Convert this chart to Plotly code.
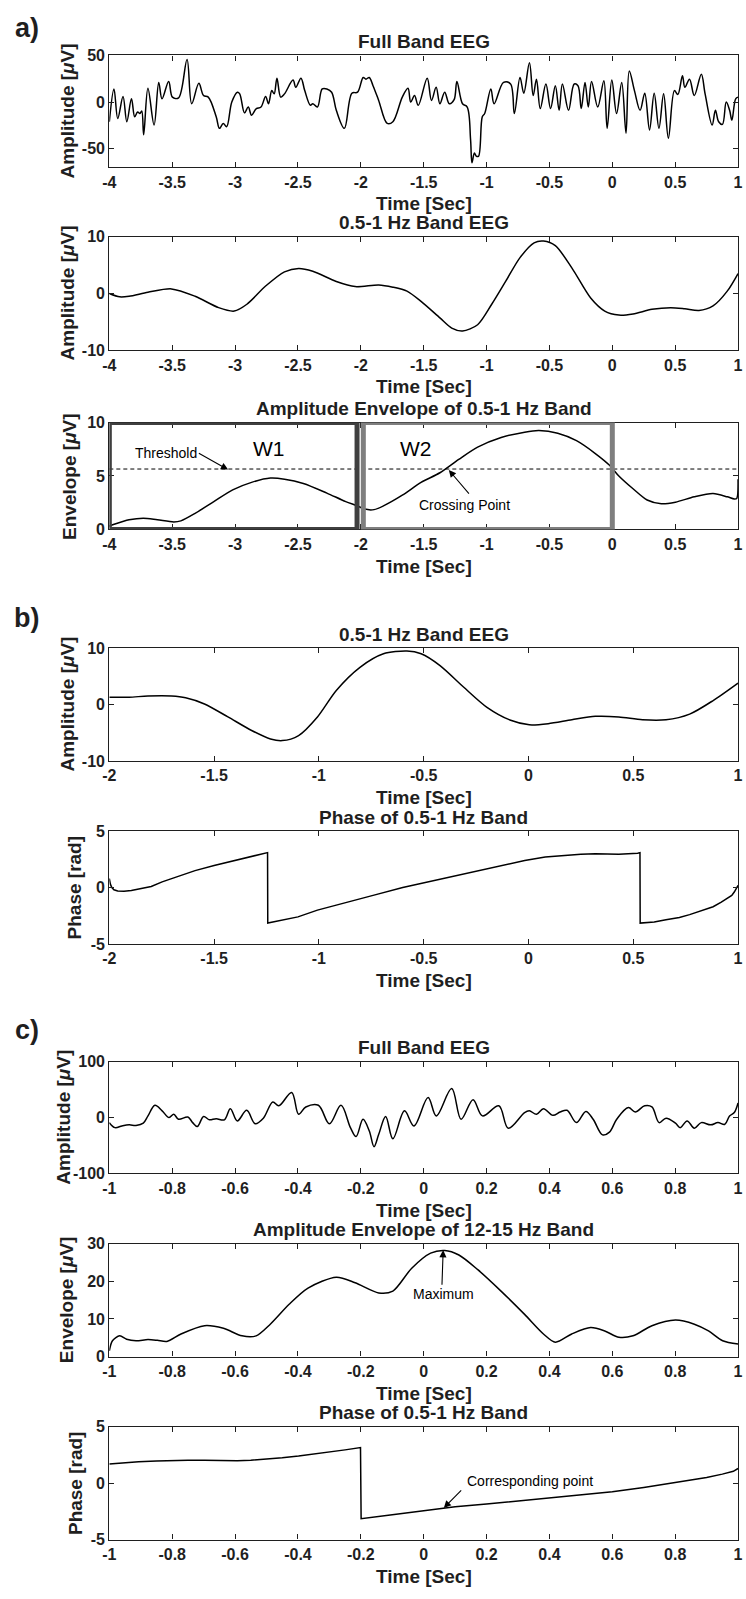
import plotly.graph_objects as go

# ---------------- data ----------------
a_full_t = [-4.000,-3.963,-3.933,-3.891,-3.861,-3.824,-3.798,-3.775,-3.757,-3.742,
            -3.727,-3.693,-3.644,-3.607,-3.581,-3.528,-3.498,-3.449,-3.382,-3.345,
            -3.288,-3.251,-3.213,-3.150,-3.124,-3.094,-3.067,-3.026,-2.981,-2.963,
            -2.925,-2.895,-2.869,-2.831,-2.794,-2.757,-2.734,-2.708,-2.689,-2.667,
            -2.637,-2.607,-2.539,-2.517,-2.476,-2.446,-2.401,-2.382,-2.345,-2.307,
            -2.270,-2.232,-2.195,-2.131,-2.071,-2.026,-1.981,-1.959,-1.933,-1.903,
            -1.858,-1.790,-1.745,-1.670,-1.625,-1.603,-1.573,-1.543,-1.472,-1.438,
            -1.401,-1.371,-1.333,-1.296,-1.258,-1.236,-1.191,-1.154,-1.127,-1.116,
            -1.097,-1.082,-1.064,-1.034,-1.015,-0.966,-0.940,-0.865,-0.809,-0.779,
            -0.734,-0.704,-0.659,-0.629,-0.603,-0.573,-0.528,-0.491,-0.453,-0.423,
            -0.397,-0.348,-0.303,-0.273,-0.247,-0.217,-0.191,-0.165,-0.116,-0.067,
            -0.041,-0.004,0.034,0.075,0.109,0.135,0.176,0.221,0.258,0.296,
            0.333,0.371,0.408,0.446,0.494,0.521,0.558,0.577,0.614,0.652,
            0.708,0.738,0.794,0.820,0.846,0.876,0.906,0.933,0.951,0.981,
            1.000]
a_full_v = [-21.1,14.1,-17.6,6.0,-21.1,3.5,-15.8,-10.6,-12.3,-9.5,
            -35.2,14.8,-24.6,21.1,3.5,22.2,5.3,4.6,45.8,-1.8,
            20.1,7.0,5.3,-15.8,-28.2,-22.9,-26.4,0.0,10.6,8.8,
            -11.6,-5.3,-14.1,-7.0,-5.3,6.0,-1.8,12.3,8.8,25.7,
            5.3,8.8,23.6,15.8,25.7,12.3,-3.5,-1.8,-5.3,14.1,
            14.1,10.6,-8.8,-28.2,9.5,10.6,26.4,24.6,26.4,17.6,
            1.8,-22.9,-21.1,5.3,14.8,0.0,7.0,-3.5,25.7,1.8,
            15.8,-1.8,10.6,-1.8,2.5,22.2,-1.8,-5.3,-40.5,-65.1,
            -54.6,-58.1,-58.1,-15.8,-12.3,14.1,-1.8,21.1,19.4,-12.3,
            26.4,9.5,42.3,7.0,24.6,-7.0,19.4,-7.0,17.6,-8.8,
            19.4,-8.8,19.4,17.6,-7.0,21.1,-5.3,22.2,-5.3,22.9,
            -28.2,23.6,-12.3,21.1,-33.4,33.4,12.3,-8.8,9.5,-29.9,
            9.5,-28.2,8.8,-38.7,12.3,8.1,28.2,15.8,24.6,7.0,
            29.9,8.8,-24.6,-8.8,-21.1,-23.9,0.0,-8.8,-19.4,3.5,
            5.3]

a_delta_t = [-4.0,-3.918,-3.843,-3.693,-3.506,-3.318,-3.131,-3.007,-2.906,-2.757,
             -2.607,-2.494,-2.382,-2.195,-2.045,-1.858,-1.745,-1.633,-1.521,-1.371,
             -1.277,-1.191,-1.071,-0.959,-0.846,-0.734,-0.622,-0.547,-0.453,-0.322,
             -0.172,-0.060,0.052,0.165,0.315,0.464,0.577,0.689,0.801,0.914,1.0]
a_delta_v = [0.0,-0.6,-0.5,0.2,0.8,-0.5,-2.5,-3.1,-1.9,1.3,
             3.8,4.4,3.9,2.1,1.2,1.5,1.1,0.4,-1.4,-4.3,
             -6.1,-6.6,-5.5,-1.9,2.2,6.3,8.9,9.2,8.4,4.5,
             -0.8,-3.1,-3.8,-3.6,-2.8,-2.5,-2.7,-3.0,-2.2,0.4,3.5]

a_env_t = [-4.000,-3.955,-3.843,-3.730,-3.618,-3.487,-3.431,-3.318,-3.169,-3.019,
           -2.869,-2.719,-2.607,-2.457,-2.270,-2.120,-2.026,-1.970,-1.895,-1.820,
           -1.670,-1.521,-1.371,-1.221,-1.071,-0.884,-0.697,-0.584,-0.434,-0.285,
           -0.135,-0.022,0.052,0.165,0.277,0.390,0.502,0.652,0.801,0.914,
           0.970,0.990,1.000]
a_env_v = [0.3,0.5,0.9,1.05,0.9,0.7,0.8,1.5,2.6,3.7,
           4.4,4.8,4.7,4.3,3.4,2.6,2.2,1.9,1.85,2.2,
           3.2,4.4,5.3,6.55,7.7,8.6,9.1,9.25,9.0,8.3,
           7.1,6.0,5.0,3.8,2.75,2.4,2.55,3.05,3.35,3.05,
           2.85,2.9,4.7]
threshold = 5.65
w1_window = [-4.0, -2.03]
w2_window = [-1.98, 0.0]

b_delta_t = [-2.000,-1.906,-1.816,-1.703,-1.636,-1.546,-1.434,-1.321,-1.231,-1.175,
             -1.097,-1.007,-0.917,-0.804,-0.692,-0.580,-0.512,-0.422,-0.310,-0.198,
             -0.085,0.004,0.094,0.207,0.319,0.431,0.544,0.656,0.769,0.881,1.000]
b_delta_v = [1.3,1.3,1.5,1.5,1.2,0.1,-2.2,-4.6,-6.1,-6.4,
             -5.5,-2.2,2.5,6.6,9.0,9.5,9.0,6.9,3.1,-0.5,
             -2.8,-3.6,-3.4,-2.7,-2.1,-2.2,-2.7,-2.7,-1.7,0.7,3.8]

b_phase_t = [-2.000,-1.995,-1.988,-1.978,-1.960,-1.930,-1.895,-1.861,-1.80,-1.748,
             -1.67,-1.591,-1.50,-1.434,-1.321,-1.245,-1.244,-1.10,-1.007,-0.87,
             -0.737,-0.60,-0.467,-0.35,-0.243,-0.13,-0.018,0.08,0.162,0.250,
             0.319,0.431,0.521,0.532,0.533,0.60,0.656,0.72,0.769,0.83,
             0.881,0.92,0.948,0.97,0.982,1.000]
b_phase_v = [0.8,0.3,0.0,-0.2,-0.3,-0.32,-0.27,-0.15,0.1,0.5,
             1.0,1.5,1.95,2.25,2.75,3.1,-3.15,-2.6,-2.0,-1.35,
             -0.67,0.0,0.55,1.05,1.5,1.97,2.4,2.7,2.85,2.95,
             3.0,2.95,3.05,3.1,-3.15,-3.05,-2.85,-2.65,-2.4,-2.05,
             -1.7,-1.3,-1.0,-0.7,-0.4,0.2]

c_full_t = [-1.000,-0.982,-0.960,-0.937,-0.915,-0.892,-0.877,-0.855,-0.832,-0.810,
            -0.795,-0.780,-0.750,-0.735,-0.720,-0.700,-0.682,-0.660,-0.634,-0.615,
            -0.593,-0.563,-0.536,-0.510,-0.480,-0.461,-0.420,-0.398,-0.375,-0.335,
            -0.300,-0.263,-0.233,-0.215,-0.193,-0.173,-0.158,-0.143,-0.121,-0.098,
            -0.061,-0.031,0.014,0.040,0.089,0.119,0.157,0.187,0.239,0.269,
            0.321,0.336,0.359,0.381,0.411,0.434,0.456,0.486,0.516,0.539,
            0.569,0.591,0.614,0.651,0.673,0.703,0.726,0.749,0.771,0.801,
            0.816,0.838,0.861,0.883,0.913,0.936,0.958,0.973,0.988,1.000]
c_full_v = [-9,-18,-15,-13,-14,-10,3,22,12,0,
            6,-3,1,-9,-16,2,-4,-2,-4,16,
            -6,13,-11,-1,28,21,45,6,19,22,
            -11,22,-18,-34,-3,-24,-52,-30,2,-38,
            12,-15,36,3,52,-3,32,3,21,-19,
            9,12,6,16,4,10,13,-9,11,-3,
            -31,-26,-3,18,10,21,19,-9,-1,-10,
            -18,-6,-19,-9,-13,-9,-12,3,9,26]

c_env_t = [-1.000,-0.990,-0.967,-0.945,-0.915,-0.877,-0.847,-0.817,-0.772,-0.697,
           -0.637,-0.578,-0.533,-0.488,-0.428,-0.368,-0.278,-0.218,-0.143,-0.098,
           -0.038,0.022,0.067,0.112,0.172,0.246,0.321,0.381,0.419,0.471,
           0.531,0.576,0.621,0.666,0.726,0.801,0.861,0.906,0.951,1.000]
c_env_v = [1.5,4.2,5.5,4.6,4.2,4.5,4.3,4.0,6.0,8.2,
           7.5,5.5,5.5,8.6,13.9,18.2,21.1,19.6,16.9,17.4,
           23.5,27.5,28.2,27.0,23.1,17.4,11.2,6.0,3.8,6.0,
           7.7,6.8,5.1,5.5,8.2,9.7,8.6,6.8,4.2,3.3]

c_phase_t = [-1.000,-0.95,-0.907,-0.85,-0.802,-0.75,-0.697,-0.65,-0.593,-0.55,
             -0.503,-0.45,-0.398,-0.35,-0.293,-0.25,-0.201,-0.199,-0.100,0.000,
             0.100,0.200,0.300,0.400,0.500,0.600,0.700,0.800,0.900,0.950,
             0.985,1.000]
c_phase_v = [1.7,1.82,1.9,1.97,2.02,2.03,2.02,1.99,1.98,2.03,
             2.12,2.25,2.4,2.6,2.8,2.95,3.15,-3.15,-2.8,-2.45,
             -2.1,-1.85,-1.58,-1.3,-1.05,-0.77,-0.38,0.05,0.5,0.8,
             1.05,1.3]

titles = ["Full Band EEG", "0.5-1 Hz Band EEG", "Amplitude Envelope of 0.5-1 Hz Band",
          "0.5-1 Hz Band EEG", "Phase of 0.5-1 Hz Band",
          "Full Band EEG", "Amplitude Envelope of 12-15 Hz Band", "Phase of 0.5-1 Hz Band"]
ylabels = ["Amplitude [<i>\u03bc</i>V]", "Amplitude [<i>\u03bc</i>V]", "Envelope [<i>\u03bc</i>V]",
           "Amplitude [<i>\u03bc</i>V]", "Phase [rad]",
           "Amplitude [<i>\u03bc</i>V]", "Envelope [<i>\u03bc</i>V]", "Phase [rad]"]
xlabel = "Time [Sec]"

xticks_a = [-4, -3.5, -3, -2.5, -2, -1.5, -1, -0.5, 0, 0.5, 1]
xticks_a_text = ["-4", "-3.5", "-3", "-2.5", "-2", "-1.5", "-1", "-0.5", "0", "0.5", "1"]
xticks_b = [-2, -1.5, -1, -0.5, 0, 0.5, 1]
xticks_b_text = ["-2", "-1.5", "-1", "-0.5", "0", "0.5", "1"]
xticks_c = [-1, -0.8, -0.6, -0.4, -0.2, 0, 0.2, 0.4, 0.6, 0.8, 1]
xticks_c_text = ["-1", "-0.8", "-0.6", "-0.4", "-0.2", "0", "0.2", "0.4", "0.6", "0.8", "1"]

yticks = [[-50, 0, 50], [-10, 0, 10], [0, 5, 10], [-10, 0, 10], [-5, 0, 5],
          [-100, 0, 100], [0, 10, 20, 30], [-5, 0, 5]]
yticks_text = [["-50", "0", "50"], ["-10", "0", "10"], ["0", "5", "10"], ["-10", "0", "10"],
               ["-5", "0", "5"], ["-100", "0", "100"], ["0", "10", "20", "30"], ["-5", "0", "5"]]
yranges = [[-70, 50], [-10, 10], [0, 10], [-10, 10], [-5, 5], [-100, 100], [0, 30], [-5, 5]]

# ---------------- layout geometry (pixels) ----------------
FW, FH = 746, 1599
PL, PR = 104, 743
tops = [48, 231, 419, 647, 832, 1065, 1249, 1434]
bots = [161, 346, 527, 761, 946, 1178, 1363, 1548]
ylab_x = [61, 61, 64, 61, 69, 57, 60, 69]


def fx(p):
    return p / FW


def fy(p):
    return 1 - p / FH


INK = "#1f1f1f"
BOLD = dict(family="Liberation Sans, Arial, sans-serif", color=INK, weight="bold")
REG = dict(family="Liberation Sans, Arial, sans-serif", color="black")

fig = go.Figure()

series = [
    (a_full_t, a_full_v, "spline", 0, 1.0),
    (a_delta_t, a_delta_v, "spline", 1, 0.8),
    (a_env_t, a_env_v, "spline", 2, 0.8),
    (b_delta_t, b_delta_v, "spline", 3, 0.8),
    (b_phase_t, b_phase_v, "linear", 4, 0),
    (c_full_t, c_full_v, "spline", 5, 1.0),
    (c_env_t, c_env_v, "spline", 6, 0.8),
    (c_phase_t, c_phase_v, "linear", 7, 0),
]


def axname(i):
    return "" if i == 0 else str(i + 1)


for t, v, shp, i, sm in series:
    line = dict(color="black", width=1.5, shape=shp)
    if shp == "spline":
        line["smoothing"] = sm
    fig.add_trace(go.Scatter(x=t, y=v, mode="lines", line=line,
                             xaxis="x" + axname(i), yaxis="y" + axname(i),
                             showlegend=False, hoverinfo="skip"))

# threshold line (panel a, plot 3)
fig.add_trace(go.Scatter(x=[-4, 1], y=[threshold, threshold], mode="lines",
                         line=dict(color="black", width=1, dash="4px,3px"),
                         xaxis="x3", yaxis="y3", showlegend=False, hoverinfo="skip"))

layout = dict(width=FW, height=FH, margin=dict(l=0, r=0, t=0, b=0),
              plot_bgcolor="white", paper_bgcolor="white", showlegend=False)

xt = {0: (xticks_a, xticks_a_text, [-4, 1]), 1: (xticks_a, xticks_a_text, [-4, 1]),
      2: (xticks_a, xticks_a_text, [-4, 1]), 3: (xticks_b, xticks_b_text, [-2, 1]),
      4: (xticks_b, xticks_b_text, [-2, 1]), 5: (xticks_c, xticks_c_text, [-1, 1]),
      6: (xticks_c, xticks_c_text, [-1, 1]), 7: (xticks_c, xticks_c_text, [-1, 1])}

for i in range(8):
    tv, tt, rng = xt[i]
    n = axname(i)
    layout["xaxis" + n] = dict(
        domain=[fx(PL), fx(PR)], anchor="y" + n, range=rng,
        tickmode="array", tickvals=tv, ticktext=tt,
        showline=True, linecolor=INK, linewidth=1.3, mirror="ticks",
        ticks="inside", ticklen=5, tickwidth=1.2, tickcolor=INK,
        showgrid=False, zeroline=False, fixedrange=True,
        ticklabeloverflow="allow",
        tickfont=dict(size=16, **BOLD))
    layout["yaxis" + n] = dict(
        domain=[fy(bots[i]), fy(tops[i])], anchor="x" + n, range=yranges[i],
        tickmode="array", tickvals=yticks[i], ticktext=yticks_text[i],
        showline=True, linecolor=INK, linewidth=1.3, mirror="ticks",
        ticks="inside", ticklen=5, tickwidth=1.2, tickcolor=INK,
        showgrid=False, zeroline=False, fixedrange=True,
        ticklabeloverflow="allow",
        tickfont=dict(size=16, **BOLD))

ann = []
cx = fx((PL + PR) / 2)
for i in range(8):
    ann.append(dict(text=titles[i], x=cx, y=fy(tops[i] - 14), xref="paper", yref="paper",
                    showarrow=False, xanchor="center", yanchor="middle",
                    font=dict(size=19, **BOLD)))
    ann.append(dict(text=xlabel, x=cx, y=fy(bots[i] + 37), xref="paper", yref="paper",
                    showarrow=False, xanchor="center", yanchor="middle",
                    font=dict(size=19, **BOLD)))
    ann.append(dict(text=ylabels[i], x=fx(ylab_x[i]), y=fy((tops[i] + bots[i]) / 2),
                    xref="paper", yref="paper", textangle=-90,
                    showarrow=False, xanchor="center", yanchor="middle",
                    font=dict(size=19, **BOLD)))

for lab, ypix in [("a)", 20), ("b)", 617), ("c)", 1033)]:
    ann.append(dict(text=lab, x=fx(20), y=fy(ypix), xref="paper", yref="paper",
                    showarrow=False, xanchor="center", yanchor="middle",
                    font=dict(size=27, **BOLD)))

# in-plot text labels
ann += [
    dict(text="Threshold", x=-3.55, y=7.16, xref="x3", yref="y3", showarrow=False,
         font=dict(size=14, **REG)),
    dict(text="W1", x=-2.73, y=7.55, xref="x3", yref="y3", showarrow=False,
         font=dict(size=21, **REG)),
    dict(text="W2", x=-1.56, y=7.55, xref="x3", yref="y3", showarrow=False,
         font=dict(size=21, **REG)),
    dict(text="Crossing Point", x=-1.176, y=2.25, xref="x3", yref="y3", showarrow=False,
         font=dict(size=14, **REG)),
    dict(text="Maximum", x=0.064, y=16.5, xref="x7", yref="y7", showarrow=False,
         font=dict(size=14, **REG)),
    dict(text="Corresponding point", x=0.339, y=0.2, xref="x8", yref="y8", showarrow=False,
         font=dict(size=14, **REG)),
]
# arrows
for (xr, yr, hx, hy, tx, ty) in [("x3", "y3", -3.056, 5.6, -3.30, 7.2),
                                  ("x3", "y3", -1.30, 5.55, -1.13, 3.2),
                                  ("x7", "y7", 0.062, 28.3, 0.058, 18.7),
                                  ("x8", "y8", 0.064, -2.2, 0.124, -0.5)]:
    ann.append(dict(text="", x=hx, y=hy, ax=tx, ay=ty, xref=xr, yref=yr, axref=xr, ayref=yr,
                    showarrow=True, arrowhead=2, arrowsize=1.3, arrowwidth=1.1,
                    arrowcolor="black"))
layout["annotations"] = ann

layout["shapes"] = [
    dict(type="rect", xref="x3", yref="y3", x0=w1_window[0], x1=w1_window[1], y0=0, y1=10,
         line=dict(color="#3f3f3f", width=5), layer="above"),
    dict(type="rect", xref="x3", yref="y3", x0=w2_window[0], x1=w2_window[1], y0=0, y1=10,
         line=dict(color="#7f7f7f", width=5), layer="above"),
]

fig.update_layout(**layout)
fig.write_html("out.html", config={"displayModeBar": False},
               post_script="document.body.style.margin='0';document.body.style.overflow='hidden';")
